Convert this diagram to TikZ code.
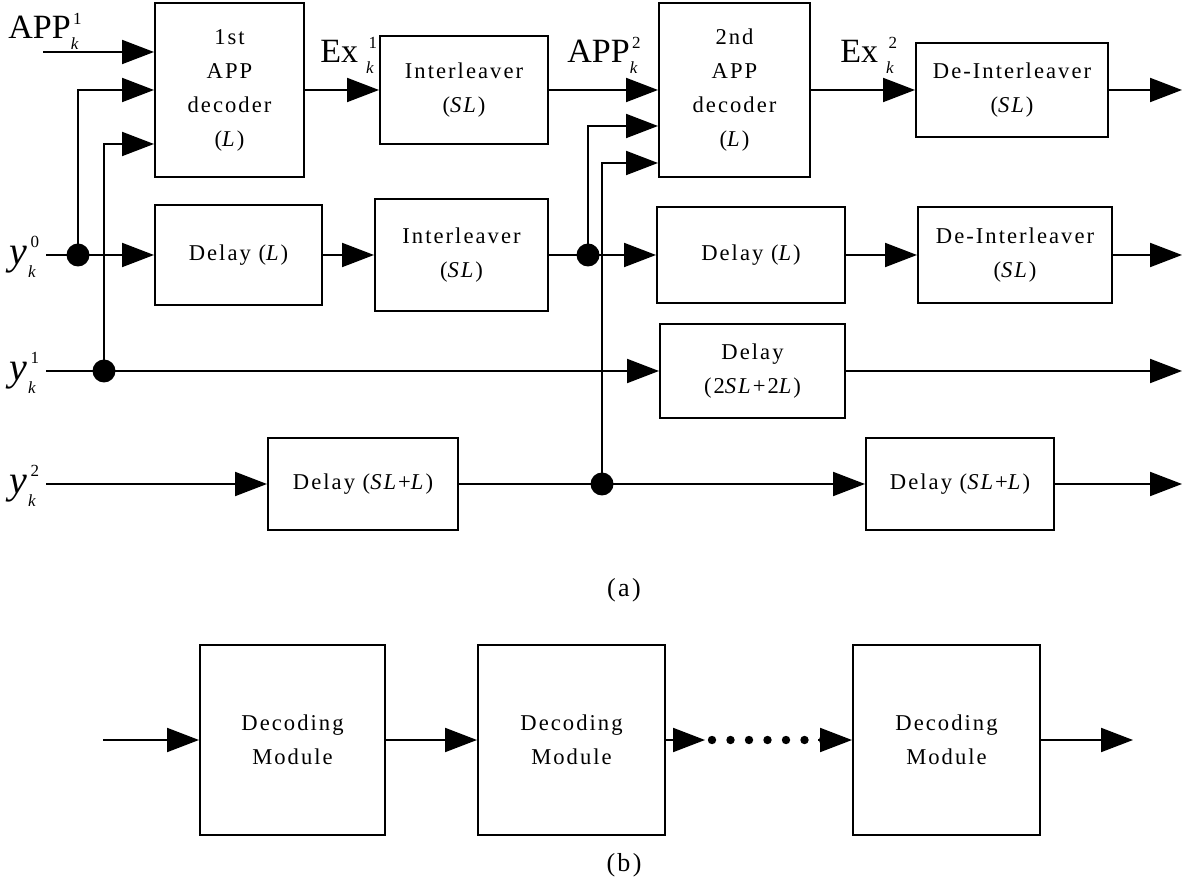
\documentclass[tikz,border=0pt]{standalone}
\usepackage{fontspec}
\setmainfont{Liberation Serif}
\usepackage{tikz}
\usetikzlibrary{arrows.meta,calc}
\newfontfamily\boxfont[LetterSpace=9]{Liberation Serif}
\newcommand{\supsz}{\fontsize{8.5}{8.5}\selectfont}
% signal name with stacked index and time k
\newcommand{\sgl}[3]{#1\hspace{#3}\rlap{\raisebox{0.44em}{\supsz\hspace{1.2pt}#2}}\raisebox{-0.32em}{\supsz\itshape k}}
\tikzset{
  blk/.style={draw, line width=1pt, inner sep=0pt, align=center,
    font=\boxfont\fontsize{11.3}{17}\selectfont},
  wh/.style 2 args={minimum width=#1*0.5pt, minimum height=#2*0.5pt},
  arr/.style={-{Triangle[length=16pt,width=12pt]}, line width=1pt},
  wire/.style={line width=1pt},
  jdot/.style={circle, fill, inner sep=0pt, minimum size=11.5pt},
  sig/.style={inner sep=0pt, font=\fontsize{17}{20}\selectfont},
  ysig/.style={inner sep=0pt, font=\fontsize{20}{22}\selectfont},
  capt/.style={inner sep=0pt, font=\boxfont\fontsize{13}{15}\selectfont},
}
\begin{document}
\begin{tikzpicture}[x=0.5pt, y=-0.5pt]
\useasboundingbox (0,0) rectangle (1187,886);
% (a) decoding module
\node[blk, wh={149}{174}] (dec1) at (229.5,90) {1st\\APP\\decoder\\(\textit{L})};
\node[blk, wh={168}{108}] (int1) at (464,90) {Interleaver\\(\textit{SL})};
\node[blk, wh={151}{174}] (dec2) at (734.5,90) {2nd\\APP\\decoder\\(\textit{L})};
\node[blk, wh={192}{94}] (deint1) at (1012,90) {De-Interleaver\\(\textit{SL})};
\node[blk, wh={167}{100}] (dly1) at (238.5,255) {Delay (\textit{L})};
\node[blk, wh={173}{112}] (int2) at (461.5,255) {Interleaver\\(\textit{SL})};
\node[blk, wh={188}{96}] (dly2) at (751,255) {Delay (\textit{L})};
\node[blk, wh={194}{96}] (deint2) at (1015,255) {De-Interleaver\\(\textit{SL})};
\node[blk, wh={185}{94}] (dly3) at (752.5,371) {Delay\\(2\textit{SL}+2\textit{L})};
\node[blk, wh={190}{92}] (dly4) at (363,484) {Delay (\textit{SL}+\textit{L})};
\node[blk, wh={188}{92}] (dly5) at (960,484) {Delay (\textit{SL}+\textit{L})};

\node[jdot] (j0) at (78,255) {};
\node[jdot] (j1) at (104,371) {};
\node[jdot] (j2) at (588,255) {};
\node[jdot] (j3) at (602,484) {};

\coordinate (a1) at (43,52);
\coordinate (s0) at (46,255);
\coordinate (s1) at (46,371);
\coordinate (s2) at (46,484);
\coordinate (o0) at (1182,90);
\coordinate (o1) at (1182,255);
\coordinate (o2) at (1182,371);
\coordinate (o3) at (1182,484);

\node[sig, anchor=base west] (lapp1) at (8,39) {\sgl{APP}{1}{0pt}};
\node[sig, anchor=base west] (lex1) at (320,63) {\sgl{Ex}{1}{4pt}};
\node[sig, anchor=base west] (lapp2) at (567,63) {\sgl{APP}{2}{0pt}};
\node[sig, anchor=base west] (lex2) at (840,63) {\sgl{Ex}{2}{4pt}};
\node[ysig, anchor=base west] (ly0) at (9,265) {\sgl{\textit{y}}{0}{0.5pt}};
\node[ysig, anchor=base west] (ly1) at (9,381) {\sgl{\textit{y}}{1}{0.5pt}};
\node[ysig, anchor=base west] (ly2) at (9,494) {\sgl{\textit{y}}{2}{0.5pt}};

% top row
\draw[arr] (a1) -- (a1 -| dec1.west);
\draw[arr] (j0.center) |- (dec1.west);
\draw[arr] (j1.center) |- ($(dec1.west)+(0,54)$);
\draw[arr] (dec1.east) -- (int1.west);
\draw[arr] (int1.east) -- (dec2.west);
\draw[arr] (j2.center) |- ($(dec2.west)+(0,36)$);
\draw[arr] (j3.center) |- ($(dec2.west)+(0,73)$);
\draw[arr] (dec2.east) -- (deint1.west);
\draw[arr] (deint1.east) -- (o0);
% systematic bits
\draw[arr] (s0) -- (dly1.west);
\draw[arr] (dly1.east) -- (int2.west);
\draw[wire] (int2.east) -- (j2.center);
\draw[arr] (j2.center) -- (dly2.west);
\draw[arr] (dly2.east) -- (deint2.west);
\draw[arr] (deint2.east) -- (o1);
% parity 1
\draw[arr] (s1) -- (dly3.west);
\draw[arr] (dly3.east) -- (o2);
% parity 2
\draw[arr] (s2) -- (dly4.west);
\draw[wire] (dly4.east) -- (j3.center);
\draw[arr] (j3.center) -- (dly5.west);
\draw[arr] (dly5.east) -- (o3);

\node[capt] (capa) at (624,590) {(a)};

% (b) cascade of modules
\node[blk, wh={185}{190}] (m1) at (292.5,740) {Decoding\\Module};
\node[blk, wh={187}{190}] (m2) at (571.5,740) {Decoding\\Module};
\node[blk, wh={187}{190}] (m3) at (946.5,740) {Decoding\\Module};
\coordinate (bin) at (103,740);
\coordinate (bout) at (1133,740);
\coordinate (g1) at (705,740);
\coordinate (g2) at (818,740);
\draw[arr] (bin) -- (m1.west);
\draw[arr] (m1.east) -- (m2.west);
\draw[arr] (m2.east) -- (g1);
\foreach \i in {0,...,6}
  \fill (712+\i*18.5,740) circle (2.1pt);
\draw[arr] (g2) -- (m3.west);
\draw[arr] (m3.east) -- (bout);

\node[capt] (capb) at (624,865) {(b)};
\end{tikzpicture}
\end{document}
